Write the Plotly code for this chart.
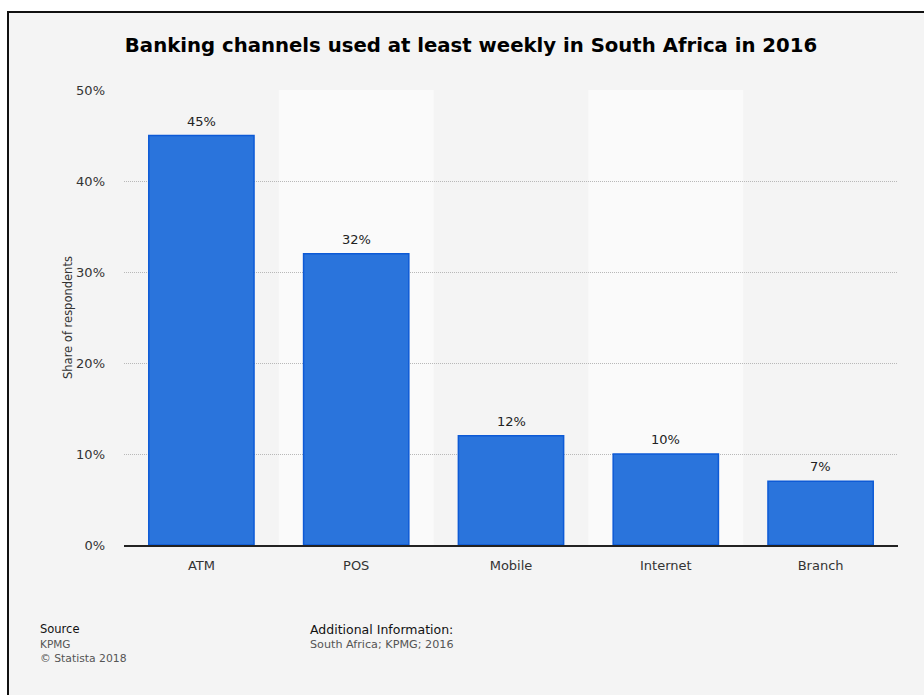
import plotly.graph_objects as go

categories = ["ATM", "POS", "Mobile", "Internet", "Branch"]
values = [45, 32, 12, 10, 7]
y_ticks = [0, 10, 20, 30, 40, 50]
y_tick_labels = ["0%", "10%", "20%", "30%", "40%", "50%"]

W, H = 924, 695
L, R, T, B = 124, 898, 90, 545
pw, ph = R - L, B - T

def px(x):
    return (x - L) / pw

def py(y):
    return (B - y) / ph

FONT = "DejaVu Sans"
BG = "#f4f4f4"

fig = go.Figure()
fig.add_trace(go.Bar(
    x=categories,
    y=values,
    width=0.68,
    marker=dict(color="#2a74dc", line=dict(color="#0d5ad6", width=1.5)),
    hoverinfo="skip",
))

shapes = [
    dict(type="rect", xref="paper", yref="paper",
         x0=px(8), x1=px(940), y0=py(712), y1=py(12),
         fillcolor=BG, line=dict(color="#111", width=2), layer="below"),
]
for i in range(len(categories)):
    if i % 2 == 1:
        shapes.append(dict(type="rect", xref="x", yref="paper",
                           x0=i - 0.5, x1=i + 0.5, y0=0, y1=1,
                           fillcolor="#fafafa", line=dict(width=0), layer="below"))

annotations = []
for c, v in zip(categories, values):
    annotations.append(dict(text=f"{v}%", x=c, y=v, xref="x", yref="y",
                            yanchor="bottom", yshift=5, showarrow=False,
                            font=dict(family=FONT, size=13, color="#222")))

def note(text, x, y, size, color):
    return dict(text=text, xref="paper", yref="paper", x=px(x), y=py(y),
                xanchor="left", yanchor="middle", xshift=-2, showarrow=False,
                font=dict(family=FONT, size=size, color=color))

annotations += [
    dict(text="Share of respondents", textangle=-90, xref="paper", yref="paper",
         x=px(59), y=py(318), showarrow=False, font=dict(family=FONT, size=11.5, color="#333")),
    note("Source", 40, 629, 11.5, "#111"),
    note("KPMG", 40, 644, 10.5, "#555"),
    note("© Statista 2018", 40, 658, 10.8, "#555"),
    note("Additional Information:", 310, 629, 12.5, "#111"),
    note("South Africa; KPMG; 2016", 310, 644, 11.2, "#555"),
]

fig.update_layout(
    width=W, height=H,
    margin=dict(l=L, r=W - R, t=T, b=H - B),
    paper_bgcolor="white",
    plot_bgcolor=BG,
    showlegend=False,
    title=dict(text="<b>Banking channels used at least weekly in South Africa in 2016</b>",
               x=471 / W, xanchor="center", y=1 - 45 / H, yanchor="middle",
               font=dict(family=FONT, size=19.7, color="#000")),
    shapes=shapes,
    annotations=annotations,
)
fig.update_xaxes(
    showline=True, linecolor="#222", linewidth=1.5,
    showgrid=False, ticks="", ticklabelstandoff=8,
    tickfont=dict(family=FONT, size=13, color="#333"),
    range=[-0.5, len(categories) - 0.5],
)
fig.update_yaxes(
    range=[0, 50], tickmode="array", tickvals=y_ticks, ticktext=y_tick_labels,
    showgrid=True, gridcolor="#b8b8b8", griddash="1px,1px", gridwidth=1,
    zeroline=False, showline=False, ticks="", ticklabelstandoff=18,
    tickfont=dict(family=FONT, size=13, color="#333"),
)

fig.write_html("out.html", config={"displayModeBar": False},
               post_script="document.body.style.margin='0';document.body.style.overflow='hidden';")
